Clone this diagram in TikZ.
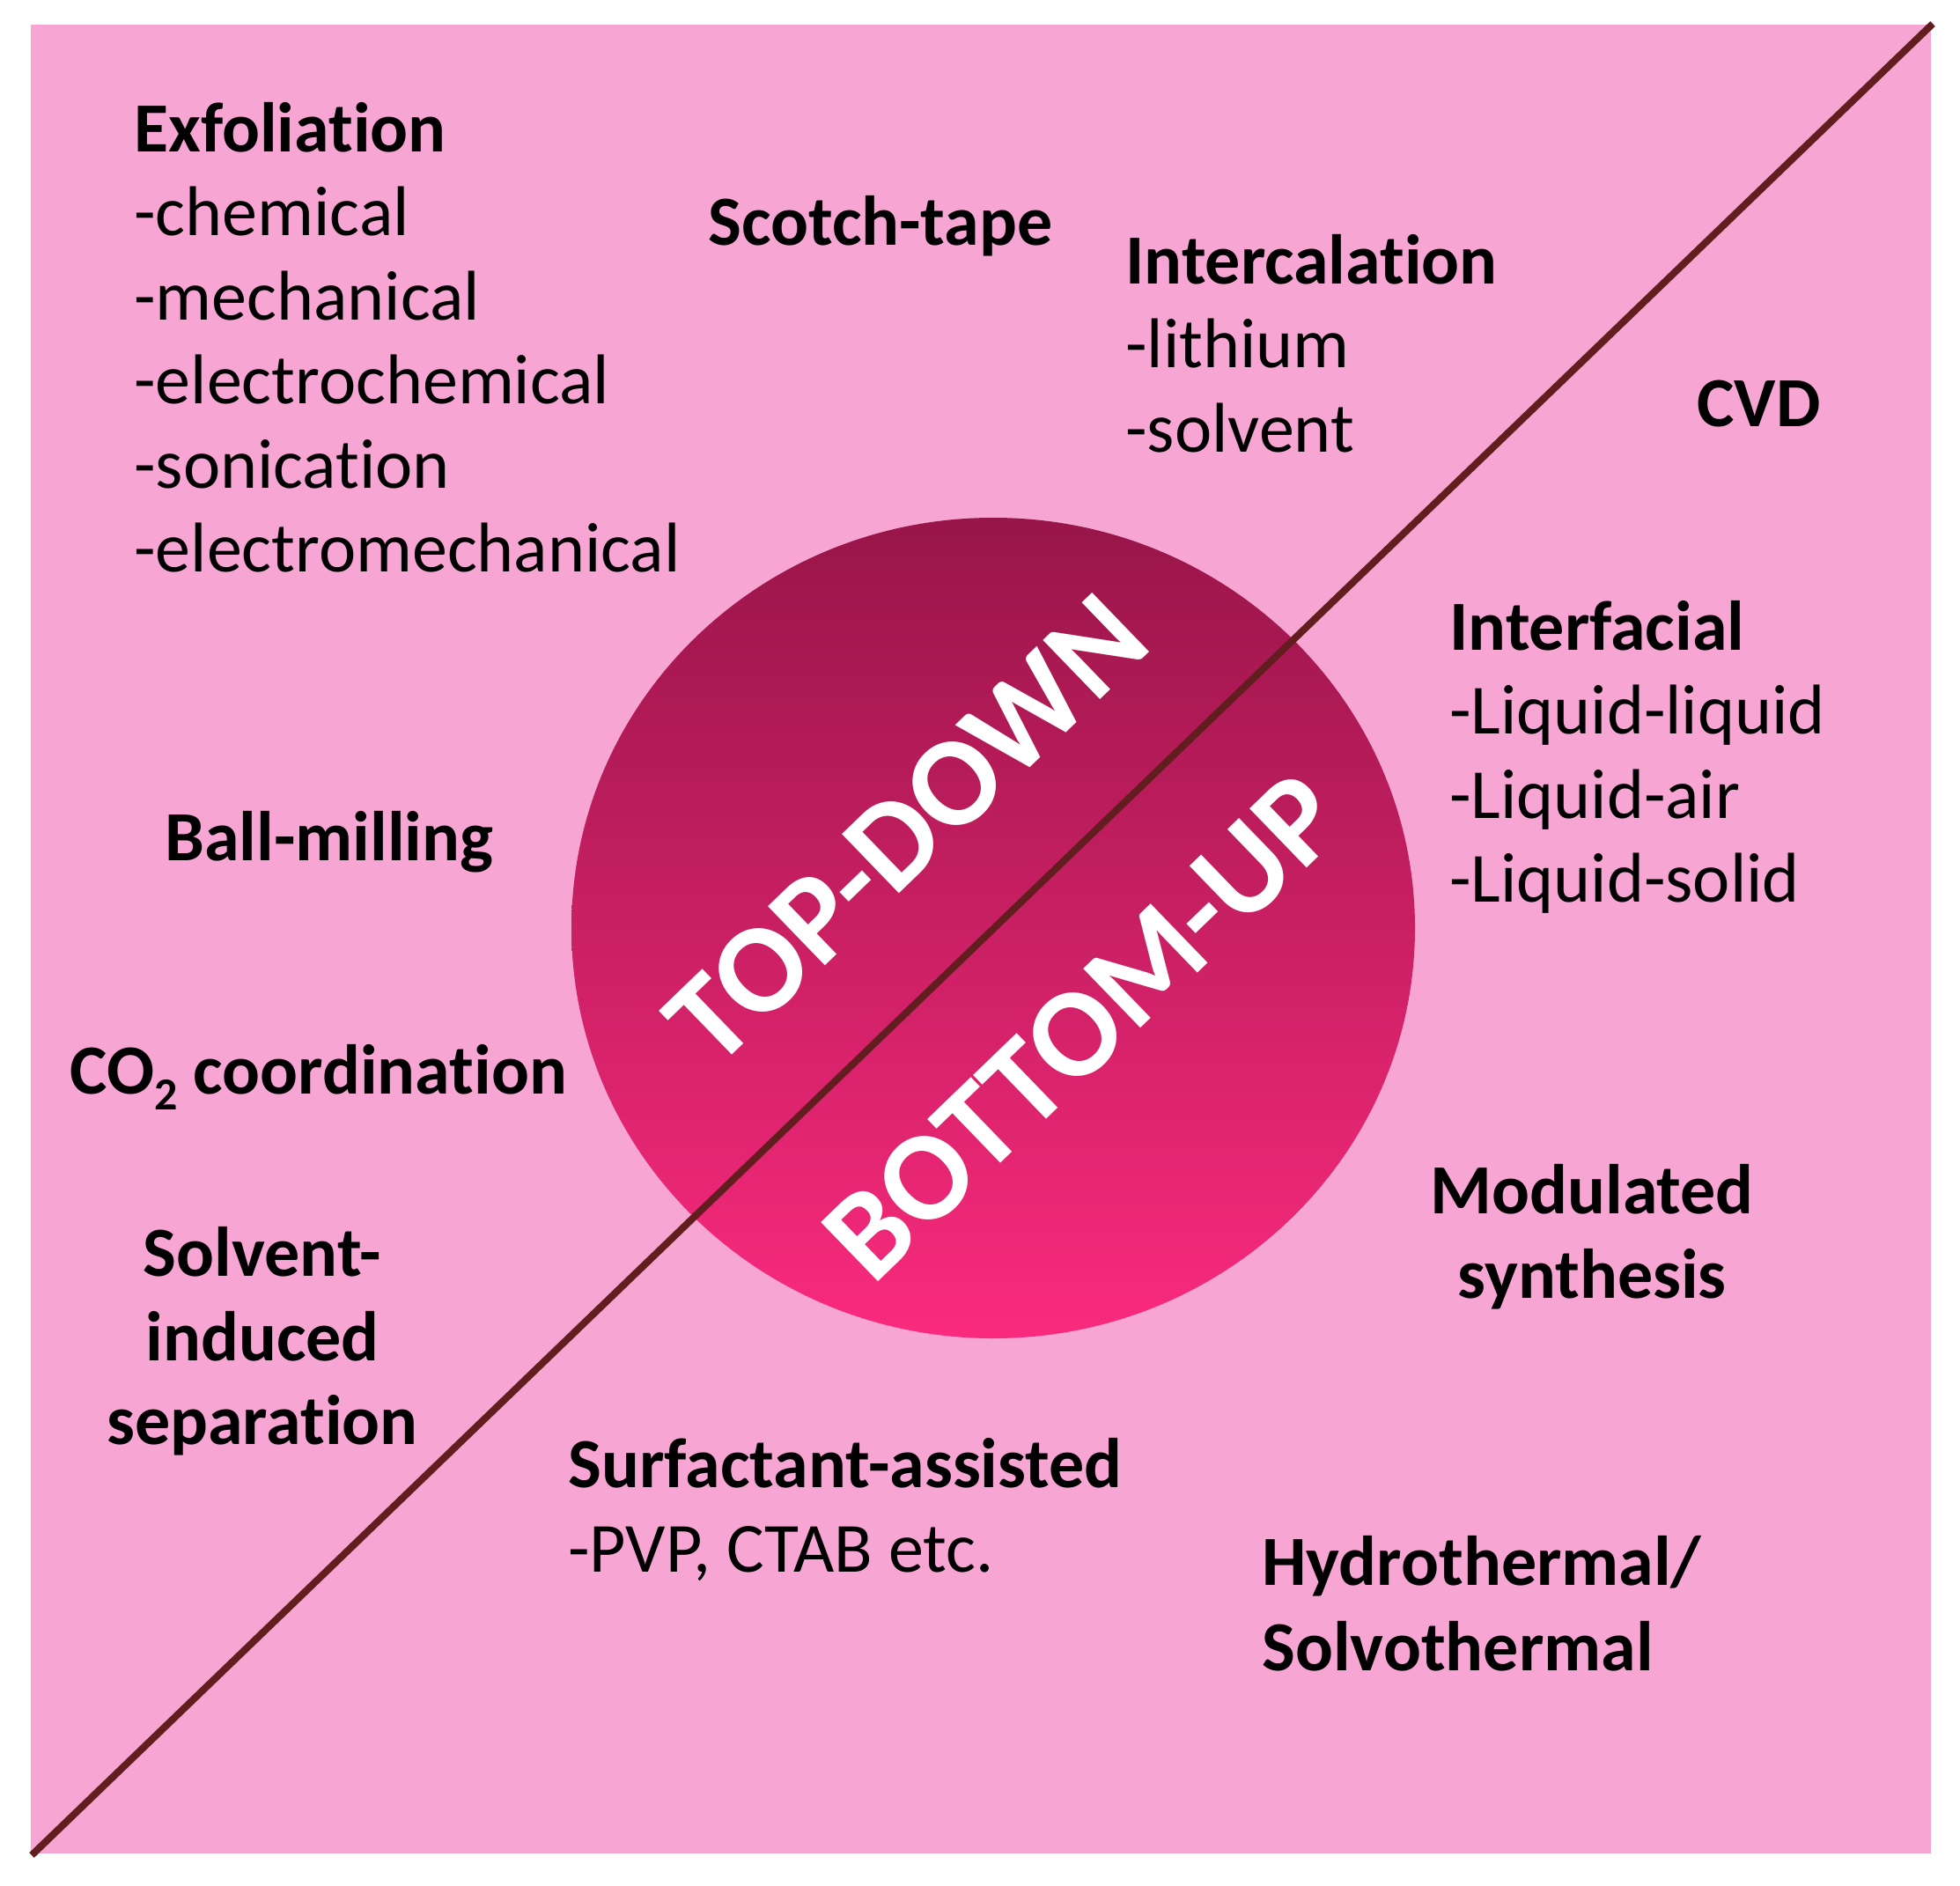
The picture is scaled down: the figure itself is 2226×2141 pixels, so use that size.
\documentclass[tikz,border=0pt]{standalone}
\usepackage{fontspec}
\setmainfont{Carlito}[Ligatures=NoCommon]
\definecolor{bgpink}{RGB}{247,166,212}
\definecolor{linebrown}{RGB}{98,30,30}
\definecolor{circtop}{RGB}{152,21,73}
\definecolor{circbot}{RGB}{250,42,126}
\tikzset{
  hd/.style={font=\bfseries\fontsize{40pt}{48pt}\selectfont, anchor=base west, inner sep=0pt, text=black},
  it/.style={font=\fontsize{40pt}{48pt}\selectfont, anchor=base west, inner sep=0pt, text=black},
  hdc/.style={hd, anchor=base},
  big/.style={font=\bfseries\fontsize{72pt}{76pt}\selectfont, text=white, inner sep=0pt, rotate=44, anchor=center},
}
\begin{document}
\begin{tikzpicture}[x=0.5pt,y=-0.5pt]
\useasboundingbox (0,0) rectangle (2226,2141);
\fill[white] (0,0) rectangle (2226,2141);
\fill[bgpink] (35,28) rectangle (2193,2105);
\shade[top color=circtop, bottom color=circbot] (1128,1054) ellipse [x radius=239.5pt, y radius=233pt];
\coordinate (tr) at (2195,27);
\coordinate (bl) at (36,2107);
\draw[linebrown, line width=4pt] (bl) -- (tr);

\node[big] (td) at (1030,942) {TOP-DOWN};
\node[big] (bu) at (1230,1166) {BOTTOM-UP};

\node[hd] (exf) at (152,172) {Exfoliation};
\node[it] (exf1) at (152,267.5) {-chemical};
\node[it] (exf2) at (152,363) {-mechanical};
\node[it] (exf3) at (152,458.5) {-electrochemical};
\node[it] (exf4) at (152,554) {-sonication};
\node[it] (exf5) at (152,649.5) {-electromechanical};

\node[hd] (scotch) at (804,278) {Scotch-tape};

\node[hd] (inter) at (1278,322) {Intercalation};
\node[it] (inter1) at (1278,417.5) {-lithium};
\node[it] (inter2) at (1278,513) {-solvent};

\node[hd] (cvd) at (1927,484) {CVD};

\node[hd] (intf) at (1646,738) {Interfacial};
\node[it] (intf1) at (1646,833.5) {-Liquid-liquid};
\node[it] (intf2) at (1646,929) {-Liquid-air};
\node[it] (intf3) at (1646,1024.5) {-Liquid-solid};

\node[hd] (ball) at (187,977) {Ball-milling};

\node[hd] (co2) at (79,1242) {CO\raisebox{-9pt}{\fontsize{26pt}{26pt}\selectfont 2} coordination};

\node[hdc] (solv1) at (298,1449) {Solvent-};
\node[hdc] (solv2) at (298,1545) {induced};
\node[hdc] (solv3) at (298,1640) {separation};

\node[hd] (surf) at (645,1689) {Surfactant-assisted};
\node[it] (surf1) at (645,1785) {-PVP, CTAB etc.};

\node[hdc] (mod1) at (1808,1378) {Modulated};
\node[hdc] (mod2) at (1808,1474) {synthesis};

\node[hd] (hyd1) at (1433,1800) {Hydrothermal/};
\node[hd] (hyd2) at (1433,1897) {Solvothermal};
\end{tikzpicture}
\end{document}
